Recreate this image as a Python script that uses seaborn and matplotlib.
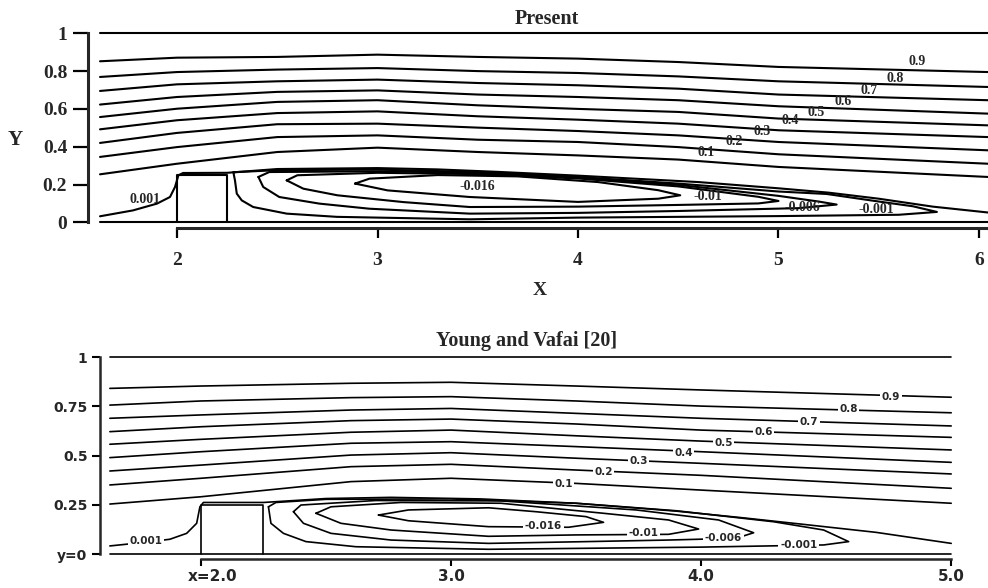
import matplotlib
matplotlib.use("Agg")
import matplotlib.pyplot as plt
import pandas as pd
import seaborn as sns
from matplotlib.transforms import ScaledTranslation

# ======================= DATA : "Present" panel =======================
top_x = [1.616, 2.0, 2.5, 3.0, 3.5, 4.0, 4.5, 5.0, 6.045]
top_psi_09 = [0.852, 0.871, 0.875, 0.887, 0.875, 0.866, 0.848, 0.822, 0.795]
top_psi_08 = [0.769, 0.795, 0.808, 0.816, 0.800, 0.790, 0.772, 0.746, 0.716]
top_psi_07 = [0.695, 0.730, 0.746, 0.755, 0.737, 0.725, 0.707, 0.676, 0.646]
top_psi_06 = [0.623, 0.663, 0.690, 0.698, 0.676, 0.663, 0.646, 0.614, 0.575]
top_psi_05 = [0.557, 0.601, 0.637, 0.646, 0.619, 0.600, 0.584, 0.549, 0.513]
top_psi_04 = [0.492, 0.540, 0.578, 0.587, 0.561, 0.543, 0.522, 0.487, 0.451]
top_psi_03 = [0.420, 0.473, 0.519, 0.522, 0.501, 0.483, 0.460, 0.425, 0.381]
top_psi_02 = [0.346, 0.398, 0.451, 0.460, 0.437, 0.425, 0.398, 0.360, 0.310]
top_psi_01 = [0.254, 0.310, 0.372, 0.395, 0.372, 0.354, 0.332, 0.293, 0.240]

top_sep_x = [1.616, 1.78, 1.90, 1.965, 1.99, 2.007, 2.03, 2.25, 2.5, 3.0, 3.3, 3.6, 4.0, 4.6, 5.0, 5.25, 5.5, 5.77, 6.045]
top_sep_y = [0.032, 0.063, 0.099, 0.134, 0.187, 0.249, 0.261, 0.262, 0.282, 0.287, 0.280, 0.267, 0.247, 0.213, 0.180, 0.157, 0.125, 0.083, 0.052]

top_m001_x = [2.281, 2.5, 3.0, 3.5, 4.0, 4.5, 5.0, 5.24, 5.5, 5.67, 5.79, 5.6, 5.0, 4.0, 3.46, 2.797, 2.547, 2.38, 2.323, 2.298, 2.289, 2.281]
top_m001_y = [0.265, 0.276, 0.279, 0.266, 0.240, 0.205, 0.163, 0.150, 0.110, 0.085, 0.055, 0.040, 0.033, 0.025, 0.016, 0.029, 0.046, 0.081, 0.116, 0.152, 0.222, 0.265]
top_m006_x = [2.406, 2.46, 3.0, 3.5, 4.0, 4.5, 5.0, 5.2, 5.29, 5.1, 4.5, 4.0, 3.46, 2.96, 2.71, 2.51, 2.43, 2.406]
top_m006_y = [0.240, 0.266, 0.270, 0.262, 0.236, 0.198, 0.140, 0.110, 0.094, 0.075, 0.060, 0.050, 0.046, 0.072, 0.099, 0.134, 0.187, 0.240]
top_m010_x = [2.547, 2.6, 3.0, 3.5, 4.0, 4.5, 4.9, 5.0, 4.9, 4.5, 4.0, 3.46, 3.13, 2.8, 2.63, 2.547]
top_m010_y = [0.222, 0.249, 0.262, 0.255, 0.232, 0.190, 0.135, 0.113, 0.100, 0.092, 0.083, 0.081, 0.107, 0.143, 0.178, 0.222]
top_m016_x = [2.888, 2.96, 3.3, 3.7, 4.1, 4.4, 4.51, 4.4, 4.0, 3.46, 3.05, 2.888]
top_m016_y = [0.205, 0.231, 0.250, 0.243, 0.213, 0.170, 0.143, 0.125, 0.108, 0.134, 0.169, 0.205]

top_wall_x = [1.616, 6.045]
top_label_text = ["0.9", "0.8", "0.7", "0.6", "0.5", "0.4", "0.3", "0.2", "0.1",
                  "-0.016", "-0.01", "-0.006", "-0.001", "0.001"]
top_label_x = [5.69, 5.58, 5.45, 5.32, 5.19, 5.06, 4.92, 4.78, 4.64, 3.50, 4.65, 5.12, 5.49, 1.84]
top_label_y = [0.852, 0.763, 0.698, 0.640, 0.580, 0.540, 0.478, 0.425, 0.369, 0.190, 0.134, 0.081, 0.067, 0.122]

# ======================= DATA : "Young and Vafai [20]" panel =======================
bot_x = [1.636, 2.0, 2.6, 3.0, 3.5, 4.0, 5.0]
bot_psi_09 = [0.842, 0.854, 0.868, 0.873, 0.854, 0.834, 0.797]
bot_psi_08 = [0.757, 0.778, 0.795, 0.800, 0.778, 0.752, 0.718]
bot_psi_07 = [0.690, 0.707, 0.732, 0.740, 0.715, 0.690, 0.651]
bot_psi_06 = [0.622, 0.647, 0.678, 0.686, 0.661, 0.630, 0.593]
bot_psi_05 = [0.558, 0.583, 0.619, 0.630, 0.601, 0.574, 0.529]
bot_psi_04 = [0.490, 0.520, 0.563, 0.571, 0.546, 0.520, 0.466]
bot_psi_03 = [0.422, 0.452, 0.503, 0.515, 0.487, 0.461, 0.407]
bot_psi_02 = [0.351, 0.385, 0.444, 0.456, 0.427, 0.400, 0.334]
bot_psi_01 = [0.254, 0.291, 0.368, 0.385, 0.359, 0.325, 0.258]

bot_sep_x = [1.636, 1.78, 1.876, 1.943, 1.983, 1.996, 2.01, 2.25, 2.5, 2.76, 3.12, 3.5, 3.9, 4.16, 4.4, 4.7, 5.0]
bot_sep_y = [0.041, 0.060, 0.075, 0.105, 0.156, 0.240, 0.262, 0.262, 0.282, 0.288, 0.280, 0.258, 0.218, 0.185, 0.152, 0.110, 0.054]

bot_m001_x = [2.27, 2.30, 2.5, 3.0, 3.5, 3.9, 4.29, 4.49, 4.59, 4.49, 4.0, 3.15, 2.62, 2.42, 2.33, 2.28, 2.27]
bot_m001_y = [0.240, 0.262, 0.278, 0.280, 0.258, 0.220, 0.164, 0.122, 0.063, 0.046, 0.035, 0.024, 0.037, 0.063, 0.105, 0.156, 0.240]
bot_m006_x = [2.37, 2.40, 2.7, 3.2, 3.74, 4.07, 4.21, 4.14, 3.87, 3.5, 3.15, 2.76, 2.52, 2.41, 2.37]
bot_m006_y = [0.215, 0.249, 0.272, 0.270, 0.224, 0.173, 0.108, 0.080, 0.071, 0.062, 0.054, 0.071, 0.105, 0.156, 0.215]
bot_m010_x = [2.46, 2.52, 2.8, 3.2, 3.61, 3.87, 3.99, 3.87, 3.5, 3.15, 2.76, 2.56, 2.46]
bot_m010_y = [0.207, 0.240, 0.262, 0.258, 0.207, 0.173, 0.127, 0.100, 0.097, 0.090, 0.122, 0.156, 0.207]
bot_m016_x = [2.71, 2.83, 3.15, 3.34, 3.54, 3.61, 3.47, 3.15, 2.83, 2.71]
bot_m016_y = [0.198, 0.224, 0.235, 0.215, 0.190, 0.161, 0.136, 0.139, 0.169, 0.198]

bot_wall_x = [1.636, 5.0]
bot_label_text = top_label_text
bot_label_x = [4.76, 4.59, 4.43, 4.25, 4.09, 3.93, 3.75, 3.61, 3.45, 3.37, 3.77, 4.09, 4.39, 1.78]
bot_label_y = [0.800, 0.736, 0.673, 0.618, 0.566, 0.515, 0.474, 0.418, 0.354, 0.142, 0.108, 0.080, 0.046, 0.064]

# obstacle (same in both studies)
block_x = [2.0, 2.0, 2.25, 2.25]
block_y = [0.0, 0.25, 0.25, 0.0]


def build_frame(xs, psi_lists, sep, loops, wall_x):
    rows = []
    def add(name, xv, yv):
        for i, (a, b) in enumerate(zip(xv, yv)):
            rows.append({"curve": name, "order": i, "x": a, "y": b})
    for k, yv in enumerate(psi_lists):
        add(f"psi{k}", xs, yv)
    add("sep", *sep)
    for k, lp in enumerate(loops):
        add(f"loop{k}", *lp)
    add("wall_top", wall_x, [1.0, 1.0])
    add("wall_bot", wall_x, [0.0, 0.0])
    add("block", block_x, block_y)
    return pd.DataFrame(rows)


top_df = build_frame(
    top_x,
    [top_psi_09, top_psi_08, top_psi_07, top_psi_06, top_psi_05,
     top_psi_04, top_psi_03, top_psi_02, top_psi_01],
    (top_sep_x, top_sep_y),
    [(top_m001_x, top_m001_y), (top_m006_x, top_m006_y),
     (top_m010_x, top_m010_y), (top_m016_x, top_m016_y)],
    top_wall_x)

bot_df = build_frame(
    bot_x,
    [bot_psi_09, bot_psi_08, bot_psi_07, bot_psi_06, bot_psi_05,
     bot_psi_04, bot_psi_03, bot_psi_02, bot_psi_01],
    (bot_sep_x, bot_sep_y),
    [(bot_m001_x, bot_m001_y), (bot_m006_x, bot_m006_y),
     (bot_m010_x, bot_m010_y), (bot_m016_x, bot_m016_y)],
    bot_wall_x)

# ======================= FIGURE =======================
sns.set_style("white")
plt.rcParams["font.family"] = ["Liberation Serif", "DejaVu Serif"]

fig = plt.figure(figsize=(9.88, 5.88), dpi=100)
ax1 = fig.add_axes([88 / 988, 1 - 228 / 588, 900 / 988, 200 / 588])
ax2 = fig.add_axes([100 / 988, 1 - 559 / 588, 853.7 / 988, 207 / 588])

SERIF = ["Liberation Serif", "DejaVu Serif"]
SANS = ["DejaVu Sans"]

# ---------- top panel ----------
sns.lineplot(data=top_df, x="x", y="y", units="curve", estimator=None, sort=False,
             color="black", lw=1.5, ax=ax1, legend=False)
ax1.set_xlim(1.556, 6.045)
ax1.set_ylim(-0.030, 1.028)
for s in ("top", "right"):
    ax1.spines[s].set_visible(False)
ax1.spines["left"].set_bounds(0, 1)
ax1.spines["bottom"].set_bounds(2, 6.045)
ax1.spines["left"].set_linewidth(2.2)
ax1.spines["bottom"].set_linewidth(2.2)
ax1.set_yticks([0, 0.2, 0.4, 0.6, 0.8, 1.0], labels=["0", "0.2", "0.4", "0.6", "0.8", "1"])
ax1.set_xticks([2, 3, 4, 5, 6], labels=["2", "3", "4", "5", "6"])
ax1.tick_params(axis="y", direction="out", length=11, width=1.6, pad=4, left=True,
                labelsize=14, color="black")
ax1.tick_params(axis="x", direction="out", length=7, width=1.6, pad=10, bottom=True,
                labelsize=14, color="black")
for lab in ax1.get_xticklabels() + ax1.get_yticklabels():
    lab.set_fontweight("bold")
    lab.set_family(SERIF)
ax1.set_xlabel("X", fontsize=14, fontweight="bold", family=SERIF)
ax1.xaxis.set_label_coords(0.502, -0.27)
ax1.set_ylabel("Y", fontsize=15, fontweight="bold", family=SERIF, rotation=0,
               ha="center", va="center")
ax1.yaxis.set_label_coords(-0.081, 0.44)
ax1.set_title("Present", fontsize=14.5, fontweight="bold", family=SERIF, pad=3, x=0.51)
for t, x, y in zip(top_label_text, top_label_x, top_label_y):
    ax1.text(x, y, t, fontsize=10, fontweight="bold", family=SERIF,
             ha="center", va="center", zorder=5)

# ---------- bottom panel ----------
sns.lineplot(data=bot_df, x="x", y="y", units="curve", estimator=None, sort=False,
             color="black", lw=1.2, ax=ax2, legend=False)
ax2.set_xlim(1.5965, 5.01)
ax2.set_ylim(-0.0254, 1.027)
for s in ("top", "right"):
    ax2.spines[s].set_visible(False)
ax2.spines["left"].set_bounds(0, 1)
ax2.spines["bottom"].set_bounds(2, 5.0)
ax2.spines["left"].set_linewidth(1.8)
ax2.spines["bottom"].set_linewidth(1.8)
ax2.set_yticks([0, 0.25, 0.5, 0.75, 1.0], labels=["y=0", "0.25", "0.5", "0.75", "1"])
ax2.set_xticks([2, 3, 4, 5], labels=["x=2.0", "3.0", "4.0", "5.0"])
ax2.tick_params(axis="y", direction="out", length=6, width=1.5, pad=3, left=True,
                labelsize=10, color="black")
ax2.tick_params(axis="x", direction="out", length=5, width=1.5, pad=2, bottom=True,
                labelsize=11, color="black")
for lab in ax2.get_xticklabels() + ax2.get_yticklabels():
    lab.set_fontweight("bold")
    lab.set_family(SANS)
ax2.set_xlabel("")
ax2.set_ylabel("")
ax2.set_title("Young and Vafai [20]", fontsize=14.5, fontweight="bold", family=SERIF, pad=4)
for t, x, y in zip(bot_label_text, bot_label_x, bot_label_y):
    ax2.text(x, y, t, fontsize=7.5, fontweight="bold", family=SANS, ha="center", va="center",
             zorder=5, bbox=dict(boxstyle="square,pad=0.15", fc="white", ec="none"))

# shift "x=2.0" slightly right as in the original
first = ax2.xaxis.get_major_ticks()[0].label1
first.set_transform(first.get_transform() + ScaledTranslation(12 / 100, 0, fig.dpi_scale_trans))

fig.savefig("out.png", dpi=100)
